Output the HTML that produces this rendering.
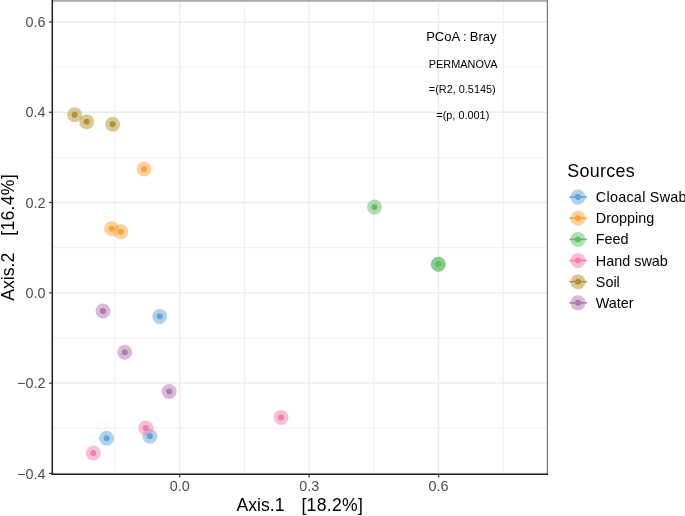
<!DOCTYPE html><html><head><meta charset="utf-8"><style>html,body{margin:0;padding:0;background:#fff;}svg{display:block;will-change:transform;}text{font-family:"Liberation Sans",sans-serif;}</style></head><body>
<svg width="685" height="516" viewBox="0 0 685 516">
<rect width="685" height="516" fill="#fff"/>
<defs><clipPath id="pc"><rect x="52.30" y="0.50" width="495.10" height="473.80"/></clipPath></defs>
<g clip-path="url(#pc)">
<line x1="114.97" y1="0.50" x2="114.97" y2="474.30" stroke="#EFEFEF" stroke-width="1"/>
<line x1="244.42" y1="0.50" x2="244.42" y2="474.30" stroke="#EFEFEF" stroke-width="1"/>
<line x1="373.88" y1="0.50" x2="373.88" y2="474.30" stroke="#EFEFEF" stroke-width="1"/>
<line x1="503.32" y1="0.50" x2="503.32" y2="474.30" stroke="#EFEFEF" stroke-width="1"/>
<line x1="52.30" y1="67.10" x2="547.40" y2="67.10" stroke="#EFEFEF" stroke-width="1"/>
<line x1="52.30" y1="157.40" x2="547.40" y2="157.40" stroke="#EFEFEF" stroke-width="1"/>
<line x1="52.30" y1="247.70" x2="547.40" y2="247.70" stroke="#EFEFEF" stroke-width="1"/>
<line x1="52.30" y1="338.00" x2="547.40" y2="338.00" stroke="#EFEFEF" stroke-width="1"/>
<line x1="52.30" y1="428.30" x2="547.40" y2="428.30" stroke="#EFEFEF" stroke-width="1"/>
<line x1="179.70" y1="0.50" x2="179.70" y2="474.30" stroke="#EBEBEB" stroke-width="1.4"/>
<line x1="309.15" y1="0.50" x2="309.15" y2="474.30" stroke="#EBEBEB" stroke-width="1.4"/>
<line x1="438.60" y1="0.50" x2="438.60" y2="474.30" stroke="#EBEBEB" stroke-width="1.4"/>
<line x1="52.30" y1="21.95" x2="547.40" y2="21.95" stroke="#EBEBEB" stroke-width="1.4"/>
<line x1="52.30" y1="112.25" x2="547.40" y2="112.25" stroke="#EBEBEB" stroke-width="1.4"/>
<line x1="52.30" y1="202.55" x2="547.40" y2="202.55" stroke="#EBEBEB" stroke-width="1.4"/>
<line x1="52.30" y1="292.85" x2="547.40" y2="292.85" stroke="#EBEBEB" stroke-width="1.4"/>
<line x1="52.30" y1="383.15" x2="547.40" y2="383.15" stroke="#EBEBEB" stroke-width="1.4"/>
<line x1="52.30" y1="473.45" x2="547.40" y2="473.45" stroke="#EBEBEB" stroke-width="1.4"/>
<circle cx="74.60" cy="114.70" r="3.00" fill="#B2912F"/>
<circle cx="86.70" cy="121.70" r="3.00" fill="#B2912F"/>
<circle cx="112.65" cy="124.20" r="3.00" fill="#B2912F"/>
<circle cx="144.05" cy="169.05" r="3.00" fill="#FAA43A"/>
<circle cx="111.60" cy="228.80" r="3.00" fill="#FAA43A"/>
<circle cx="120.80" cy="231.70" r="3.00" fill="#FAA43A"/>
<circle cx="159.70" cy="316.40" r="3.00" fill="#5DA5DA"/>
<circle cx="106.60" cy="438.30" r="3.00" fill="#5DA5DA"/>
<circle cx="149.90" cy="436.20" r="3.00" fill="#5DA5DA"/>
<circle cx="374.50" cy="207.10" r="3.00" fill="#60BD68"/>
<circle cx="438.30" cy="264.30" r="3.00" fill="#60BD68"/>
<circle cx="438.30" cy="264.30" r="3.00" fill="#60BD68"/>
<circle cx="281.00" cy="417.40" r="3.00" fill="#F17CB0"/>
<circle cx="145.80" cy="427.90" r="3.00" fill="#F17CB0"/>
<circle cx="93.30" cy="453.00" r="3.00" fill="#F17CB0"/>
<circle cx="103.00" cy="311.00" r="3.00" fill="#B276B2"/>
<circle cx="124.70" cy="352.30" r="3.00" fill="#B276B2"/>
<circle cx="169.15" cy="391.60" r="3.00" fill="#B276B2"/>
<circle cx="74.60" cy="114.70" r="7.50" fill="#B2912F" fill-opacity="0.5"/>
<circle cx="86.70" cy="121.70" r="7.50" fill="#B2912F" fill-opacity="0.5"/>
<circle cx="112.65" cy="124.20" r="7.50" fill="#B2912F" fill-opacity="0.5"/>
<circle cx="144.05" cy="169.05" r="7.50" fill="#FAA43A" fill-opacity="0.5"/>
<circle cx="111.60" cy="228.80" r="7.50" fill="#FAA43A" fill-opacity="0.5"/>
<circle cx="120.80" cy="231.70" r="7.50" fill="#FAA43A" fill-opacity="0.5"/>
<circle cx="159.70" cy="316.40" r="7.50" fill="#5DA5DA" fill-opacity="0.5"/>
<circle cx="106.60" cy="438.30" r="7.50" fill="#5DA5DA" fill-opacity="0.5"/>
<circle cx="149.90" cy="436.20" r="7.50" fill="#5DA5DA" fill-opacity="0.5"/>
<circle cx="374.50" cy="207.10" r="7.50" fill="#60BD68" fill-opacity="0.5"/>
<circle cx="438.30" cy="264.30" r="7.50" fill="#60BD68" fill-opacity="0.5"/>
<circle cx="438.30" cy="264.30" r="7.50" fill="#60BD68" fill-opacity="0.5"/>
<circle cx="281.00" cy="417.40" r="7.50" fill="#F17CB0" fill-opacity="0.5"/>
<circle cx="145.80" cy="427.90" r="7.50" fill="#F17CB0" fill-opacity="0.5"/>
<circle cx="93.30" cy="453.00" r="7.50" fill="#F17CB0" fill-opacity="0.5"/>
<circle cx="103.00" cy="311.00" r="7.50" fill="#B276B2" fill-opacity="0.5"/>
<circle cx="124.70" cy="352.30" r="7.50" fill="#B276B2" fill-opacity="0.5"/>
<circle cx="169.15" cy="391.60" r="7.50" fill="#B276B2" fill-opacity="0.5"/>
<g fill="#000">
<text x="426.2" y="40.6" font-size="13">PCoA</text>
<text x="462.9" y="40.6" font-size="13">:</text>
<text x="469.8" y="40.6" font-size="13">Bray</text>
<text x="428.8" y="67.7" font-size="10.9">PERMANOVA</text>
<text x="428.8" y="92.6" font-size="10.9">=(R2, 0.5145)</text>
<text x="436.3" y="118.7" font-size="10.9">=(p, 0.001)</text>
</g>
</g>
<rect x="52.30" y="0" width="495.70" height="1.8" fill="#ababab"/>
<line x1="547.40" y1="0" x2="547.40" y2="474.30" stroke="#7a7a7a" stroke-width="1.3"/>
<line x1="52.30" y1="0.00" x2="52.30" y2="475.00" stroke="#1e1e1e" stroke-width="1.5"/>
<line x1="51.60" y1="474.30" x2="548.00" y2="474.30" stroke="#1e1e1e" stroke-width="1.5"/>
<line x1="49.00" y1="21.95" x2="52.30" y2="21.95" stroke="#333" stroke-width="1.2"/>
<line x1="49.00" y1="112.25" x2="52.30" y2="112.25" stroke="#333" stroke-width="1.2"/>
<line x1="49.00" y1="202.55" x2="52.30" y2="202.55" stroke="#333" stroke-width="1.2"/>
<line x1="49.00" y1="292.85" x2="52.30" y2="292.85" stroke="#333" stroke-width="1.2"/>
<line x1="49.00" y1="383.15" x2="52.30" y2="383.15" stroke="#333" stroke-width="1.2"/>
<line x1="49.00" y1="473.45" x2="52.30" y2="473.45" stroke="#333" stroke-width="1.2"/>
<line x1="179.70" y1="474.30" x2="179.70" y2="477.60" stroke="#333" stroke-width="1.2"/>
<line x1="309.15" y1="474.30" x2="309.15" y2="477.60" stroke="#333" stroke-width="1.2"/>
<line x1="438.60" y1="474.30" x2="438.60" y2="477.60" stroke="#333" stroke-width="1.2"/>
<g fill="#4D4D4D" font-size="14.4">
<text x="45.5" y="27.15" text-anchor="end">0.6</text>
<text x="45.5" y="117.45" text-anchor="end">0.4</text>
<text x="45.5" y="207.75" text-anchor="end">0.2</text>
<text x="45.5" y="298.05" text-anchor="end">0.0</text>
<text x="45.5" y="388.35" text-anchor="end">−0.2</text>
<text x="45.5" y="478.65" text-anchor="end">−0.4</text>
<text x="179.70" y="490.5" text-anchor="middle">0.0</text>
<text x="309.15" y="490.5" text-anchor="middle">0.3</text>
<text x="438.60" y="490.5" text-anchor="middle">0.6</text>
</g>
<text x="236.5" y="510.6" font-size="17.6" fill="#000">Axis.1</text>
<text x="301.4" y="510.6" font-size="17.6" fill="#000" textLength="61.5">[18.2%]</text>
<text transform="translate(14,300.7) rotate(-90)" font-size="17.6" fill="#000">Axis.2</text>
<text transform="translate(14,235.7) rotate(-90)" font-size="17.6" fill="#000" textLength="61.4">[16.4%]</text>
<text x="567.2" y="177.4" font-size="17.9" fill="#000" textLength="67.6">Sources</text>
<circle cx="578" cy="197.10" r="7.50" fill="#5DA5DA" fill-opacity="0.5"/>
<line x1="569.5" y1="197.10" x2="586.8" y2="197.10" stroke="#5DA5DA" stroke-width="1.6"/>
<circle cx="578" cy="197.10" r="3.00" fill="#5DA5DA"/>
<text x="595.8" y="202.10" font-size="14.4" fill="#000" textLength="90.8">Cloacal Swab</text>
<circle cx="578" cy="218.25" r="7.50" fill="#FAA43A" fill-opacity="0.5"/>
<line x1="569.5" y1="218.25" x2="586.8" y2="218.25" stroke="#FAA43A" stroke-width="1.6"/>
<circle cx="578" cy="218.25" r="3.00" fill="#FAA43A"/>
<text x="595.8" y="223.25" font-size="14.4" fill="#000">Dropping</text>
<circle cx="578" cy="239.40" r="7.50" fill="#60BD68" fill-opacity="0.5"/>
<line x1="569.5" y1="239.40" x2="586.8" y2="239.40" stroke="#60BD68" stroke-width="1.6"/>
<circle cx="578" cy="239.40" r="3.00" fill="#60BD68"/>
<text x="595.8" y="244.40" font-size="14.4" fill="#000">Feed</text>
<circle cx="578" cy="260.55" r="7.50" fill="#F17CB0" fill-opacity="0.5"/>
<line x1="569.5" y1="260.55" x2="586.8" y2="260.55" stroke="#F17CB0" stroke-width="1.6"/>
<circle cx="578" cy="260.55" r="3.00" fill="#F17CB0"/>
<text x="595.8" y="265.55" font-size="14.4" fill="#000">Hand swab</text>
<circle cx="578" cy="281.70" r="7.50" fill="#B2912F" fill-opacity="0.5"/>
<line x1="569.5" y1="281.70" x2="586.8" y2="281.70" stroke="#B2912F" stroke-width="1.6"/>
<circle cx="578" cy="281.70" r="3.00" fill="#B2912F"/>
<text x="595.8" y="286.70" font-size="14.4" fill="#000">Soil</text>
<circle cx="578" cy="302.85" r="7.50" fill="#B276B2" fill-opacity="0.5"/>
<line x1="569.5" y1="302.85" x2="586.8" y2="302.85" stroke="#B276B2" stroke-width="1.6"/>
<circle cx="578" cy="302.85" r="3.00" fill="#B276B2"/>
<text x="595.8" y="307.85" font-size="14.4" fill="#000">Water</text>
</svg></body></html>
